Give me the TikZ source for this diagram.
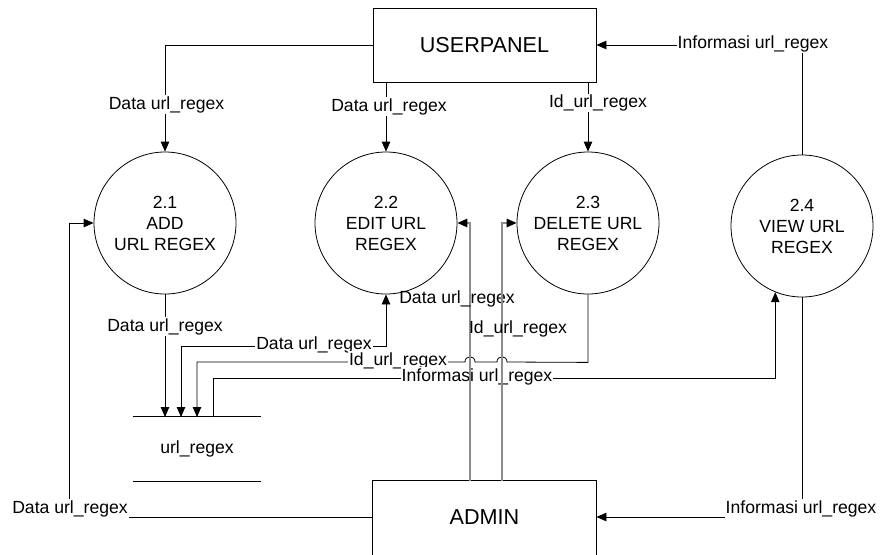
\documentclass[tikz,border=0pt]{standalone}
\usepackage{fontspec}
\setmainfont{Liberation Sans}
\usetikzlibrary{arrows.meta,calc}
\begin{document}
\begin{tikzpicture}[x=1pt,y=-1pt,
  txt/.style={font=\fontsize{17.6}{21}\selectfont},
  proc/.style={circle, draw, line width=0.8pt, minimum size=142pt, inner sep=0pt, align=center, txt},
  ent/.style={draw, rectangle, line width=0.8pt, minimum width=223pt, minimum height=74pt, font=\fontsize{21.6}{26}\selectfont},
  tip/.style={Triangle[length=10pt,width=8.5pt,color=black]},
  flow/.style={line width=0.8pt, -{Triangle[length=10pt,width=8.5pt]}},
  dflow/.style={line width=0.8pt, {Triangle[length=10pt,width=8.5pt]}-{Triangle[length=10pt,width=8.5pt]}},
  gflow/.style={line width=1.4pt, draw=black!45, -{Triangle[length=10pt,width=8.5pt,color=black]}},
  lbl/.style={fill=white, inner sep=1pt, txt, text height=12.8pt, text depth=3.7pt},
  plbl/.style={lbl, fill=none}]
\useasboundingbox (0,0) rectangle (882,554);
\clip (0,0) rectangle (882,554);

% external entities
\node[ent] (up) at (484.5,45) {USERPANEL};
\node[ent, draw=none, minimum height=72pt] (admin) at (484.5,517) {ADMIN};
\draw[line width=0.8pt] ($(admin.south west)+(0,6)$) -- (admin.north west) -- (admin.north east) -- ($(admin.south east)+(0,6)$);

% processes
\node[proc] (p1) at (165,223) {2.1\\ADD\\URL REGEX};
\node[proc] (p2) at (386,223) {2.2\\EDIT URL\\REGEX};
\node[proc] (p3) at (588,223) {2.3\\DELETE URL\\REGEX};
\node[proc] (p4) at (802,226) {2.4\\VIEW URL\\REGEX};

% data store
\node[txt, minimum width=128pt, minimum height=64pt] (store) at (197,449) {url\_regex};
\draw[line width=0.8pt] (store.north west) -- (store.north east) (store.south west) -- (store.south east);
\coordinate (s1) at (165,417);
\coordinate (s2) at (181,417);
\coordinate (s3) at (197,417);
\coordinate (s4) at (213,417);

% ports on the admin box
\coordinate (a2) at (470,481);
\coordinate (a3) at (502,481);

% flows from and to USERPANEL
\draw[flow] (up.west) -| (p1.north) node[lbl] at (166.5,104.5) {Data url\_regex};
\draw[flow] (p2.north |- up.south) -- (p2.north) node[lbl] at (389,106.5) {Data url\_regex};
\draw[flow] (p3.north |- up.south) -- (p3.north) node[lbl] at (598,103) {Id\_url\_regex};
\draw[flow] (p4.north) |- (up.east) node[lbl] at (753,43.5) {Informasi url\_regex};

% flows to and from the store
\draw[flow] (p1.south) -- (s1) node[lbl] at (165,326.5) {Data url\_regex};
\draw[dflow] (p2.south) -- ++(0,52) -| (s2) node[lbl] at (314,344.5) {Data url\_regex};
\draw[flow] (p3.south) -- ++(0,68) -- (507,362)
  .. controls (507,355) and (497,355) .. (497,362) -- (475,362)
  .. controls (475,355) and (465,355) .. (465,362) -| (s3)
  node[lbl] at (398,360.5) {Id\_url\_regex};
\draw[flow] (s4) -- ++(0,-39) -| (p4.248) node[lbl] at (477,376.5) {Informasi url\_regex};

% flows from and to ADMIN
\draw[flow] (admin.west) -| ($(p1.west)+(-24,0)$) -- (p1.west) node[lbl] at (70,508.5) {Data url\_regex};
\draw[flow] (p4.south) |- (admin.east) node[lbl] at (801,508.5) {Informasi url\_regex};
\draw[gflow] (a2) |- (p2.east) node[plbl] at (457,298.5) {Data url\_regex};
\draw[gflow] (a3) |- (p3.west) node[plbl] at (518,328.5) {Id\_url\_regex};
\end{tikzpicture}
\end{document}
